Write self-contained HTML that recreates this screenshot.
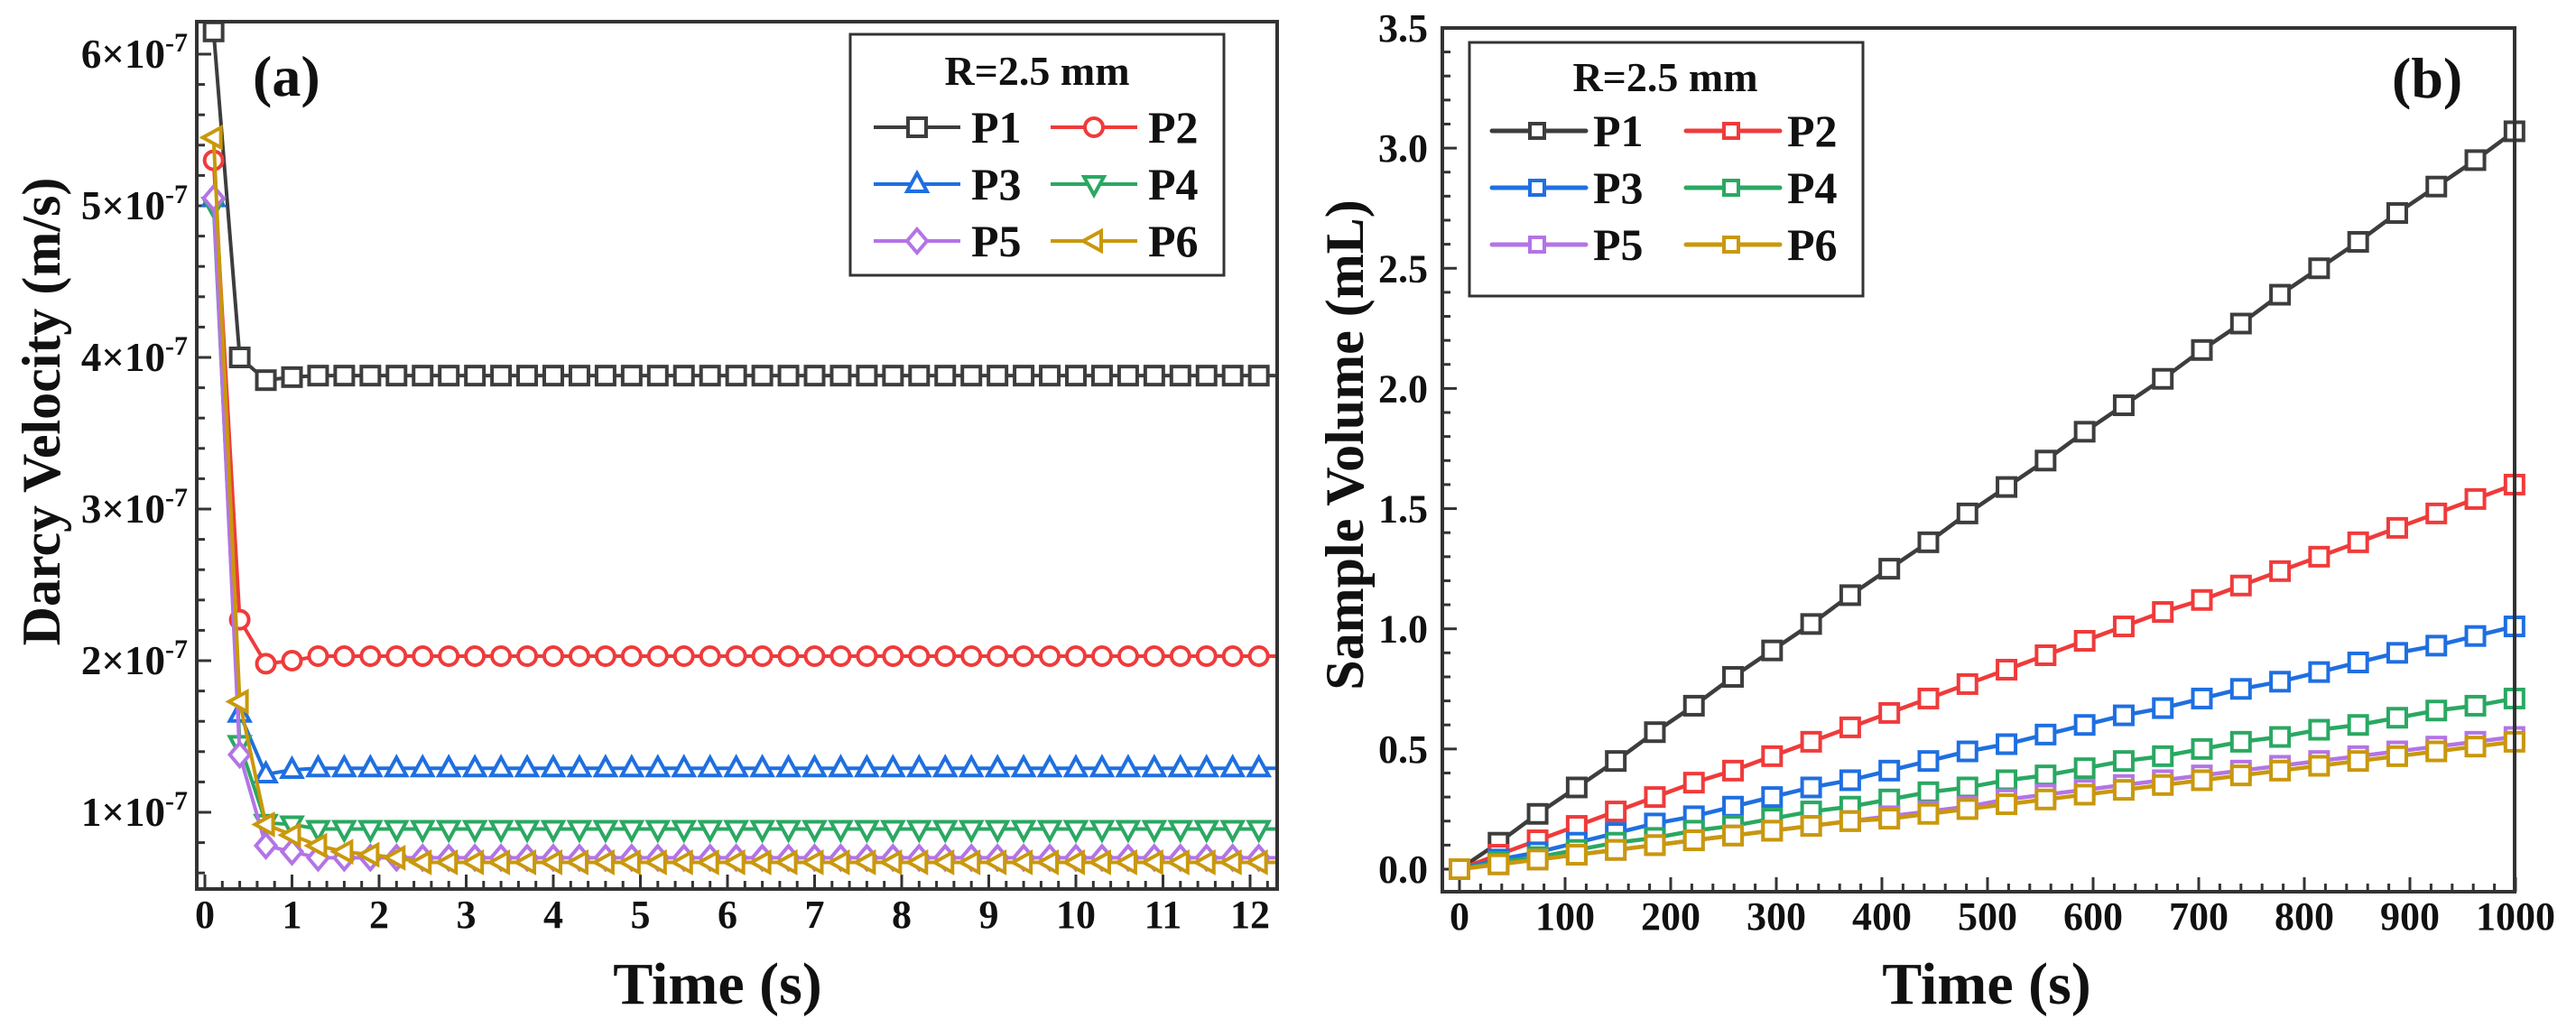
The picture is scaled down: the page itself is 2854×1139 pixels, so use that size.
<!DOCTYPE html>
<html><head><meta charset="utf-8"><style>
html,body{margin:0;padding:0;background:#fff;}
svg{display:block;font-family:"Liberation Serif",serif;font-weight:bold;}
</style></head><body>
<svg id="fig" width="2854" height="1139" viewBox="0 0 2854 1139" xmlns="http://www.w3.org/2000/svg"></svg>
<script>
// ---------- Panel (a) data ----------
const aTimes = [0.1,0.4,0.7,1.0,1.3,1.6,1.9,2.2,2.5,2.8,3.1,3.4,3.7,4.0,4.3,4.6,4.9,5.2,5.5,5.8,6.1,6.4,6.7,7.0,7.3,7.6,7.9,8.2,8.5,8.8,9.1,9.4,9.7,10.0,10.3,10.6,10.9,11.2,11.5,11.8,12.1];
const aP1Start = [6.15,4.0,3.85,3.87];
const aP2Start = [5.3,2.27,1.98,2.0];
const aP3Start = [5.05,1.65,1.25,1.28];
const aP4Start = [5.0,1.45,0.93,0.92];
const aP5Start = [5.05,1.38,0.78,0.74];
const aP6Start = [5.45,1.73,0.92,0.85,0.78,0.74,0.72,0.70];
const aP1Steady = 3.88, aP2Steady = 2.03, aP3Steady = 1.29, aP4Steady = 0.89, aP5Steady = 0.70, aP6Steady = 0.67;
const aYTicks = [1,2,3,4,5,6];
const aXTicks = [0,1,2,3,4,5,6,7,8,9,10,11,12];
// ---------- Panel (b) data ----------
const bTimes = [0,37,74,111,148,185,222,259,296,333,370,407,444,481,518,555,592,629,666,703,740,777,814,851,888,925,962,999];
const bP1 = [0,0.11,0.23,0.34,0.45,0.57,0.68,0.80,0.91,1.02,1.14,1.25,1.36,1.48,1.59,1.70,1.82,1.93,2.04,2.16,2.27,2.39,2.50,2.61,2.73,2.84,2.95,3.07];
const bP2 = [0,0.06,0.12,0.18,0.24,0.30,0.36,0.41,0.47,0.53,0.59,0.65,0.71,0.77,0.83,0.89,0.95,1.01,1.07,1.12,1.18,1.24,1.30,1.36,1.42,1.48,1.54,1.60];
const bP3 = [0,0.04,0.07,0.11,0.15,0.19,0.22,0.26,0.30,0.34,0.37,0.41,0.45,0.49,0.52,0.56,0.60,0.64,0.67,0.71,0.75,0.78,0.82,0.86,0.90,0.93,0.97,1.01];
const bP4 = [0,0.03,0.05,0.08,0.11,0.13,0.16,0.18,0.21,0.24,0.26,0.29,0.32,0.34,0.37,0.39,0.42,0.45,0.47,0.50,0.53,0.55,0.58,0.60,0.63,0.66,0.68,0.71];
const bP5 = [0,0.02,0.04,0.06,0.08,0.10,0.12,0.14,0.16,0.18,0.20,0.22,0.24,0.26,0.29,0.31,0.33,0.35,0.37,0.39,0.41,0.43,0.45,0.47,0.49,0.51,0.53,0.55];
const bP6 = [0,0.02,0.04,0.06,0.08,0.10,0.12,0.14,0.16,0.18,0.20,0.21,0.23,0.25,0.27,0.29,0.31,0.33,0.35,0.37,0.39,0.41,0.43,0.45,0.47,0.49,0.51,0.53];
const bYTicks = [0,0.5,1.0,1.5,2.0,2.5,3.0,3.5];
const bXTicks = [0,100,200,300,400,500,600,700,800,900,1000];
const seriesNames = ['P1','P2','P3','P4','P5','P6'];
const colors = ['#3d3d3d','#ef3b3b','#1f6fe0','#2aa862','#b374e6','#c9980c'];

const NS='http://www.w3.org/2000/svg';
const svg=document.getElementById('fig');
function mk(tag,attrs,parent){const e=document.createElementNS(NS,tag);for(const k in attrs)e.setAttribute(k,attrs[k]);(parent||svg).appendChild(e);return e;}

function fill(start,steady){return aTimes.map((t,i)=>i<start.length?start[i]:steady);}
const aSeries=[fill(aP1Start,aP1Steady),fill(aP2Start,aP2Steady),fill(aP3Start,aP3Steady),fill(aP4Start,aP4Steady),fill(aP5Start,aP5Steady),fill(aP6Start,aP6Steady)];
const bSeries=[bP1,bP2,bP3,bP4,bP5,bP6];

const ax={l:218,r:1415,t:24,b:985};
const axX=t=>227+t*96.5;
const axY=v=>900-(v-1)*168;
const bx={l:1598,r:2786,t:31,b:988};
const bxX=t=>1617+t*1.17;
const bxY=v=>963-v*266.3;

function marker(g,shape,x,y,color,s){
  let el;
  if(shape==='sq') el=mk('rect',{x:x-s,y:y-s,width:2*s,height:2*s},g);
  else if(shape==='ci') el=mk('circle',{cx:x,cy:y,r:s},g);
  else {
    let p;
    if(shape==='up') p=[[x,y-s*1.2],[x+s*1.1,y+s*0.8],[x-s*1.1,y+s*0.8]];
    else if(shape==='dn') p=[[x,y+s*1.2],[x+s*1.1,y-s*0.8],[x-s*1.1,y-s*0.8]];
    else if(shape==='di') p=[[x,y-s*1.3],[x+s*1.1,y],[x,y+s*1.3],[x-s*1.1,y]];
    else p=[[x-s*1.2,y],[x+s*0.8,y-s*1.1],[x+s*0.8,y+s*1.1]];
    el=mk('polygon',{points:p.map(q=>q.join(',')).join(' ')},g);
  }
  el.setAttribute('fill','#fff');el.setAttribute('stroke',color);el.setAttribute('stroke-width',4);
  return el;
}

function frame(b,name){
  const r=mk('rect',{x:b.l,y:b.t,width:b.r-b.l,height:b.b-b.t,fill:'none',stroke:'#333',"stroke-width":4});
  
  
}

// ---------- Panel (a) ----------
const ga=mk('g',{});


for(let v=0.6;v<=6.2;v+=0.2){const y=axY(v);if(y<ax.t||y>ax.b)continue;const maj=Math.abs(v-Math.round(v))<0.01;mk('line',{x1:ax.l,x2:ax.l+(maj?16:9),y1:y,y2:y,stroke:'#333','stroke-width':3},ga);}
for(let t=0;t<=12.3;t+=0.2){const x=axX(t);if(x>ax.r)continue;const maj=Math.abs(t-Math.round(t))<0.01;mk('line',{x1:x,x2:x,y1:ax.b,y2:ax.b-(maj?16:9),stroke:'#333','stroke-width':3},ga);}
aYTicks.forEach(v=>{const t=mk('text',{x:208,y:axY(v)+15,'text-anchor':'end','font-size':45,fill:'#111'},ga);
  
  
  t.textContent=v+'×10';const s=mk('tspan',{dy:-18,'font-size':30},t);s.textContent='-7';});
aXTicks.forEach(v=>{const t=mk('text',{x:axX(v),y:1028,'text-anchor':'middle','font-size':44,fill:'#111'},ga);
  
  
  t.textContent=v;});
const shapesA=['sq','ci','up','dn','di','lt'];
aSeries.forEach((vals,si)=>{
  const g=mk('g',{},ga);
  
  
  const pts=vals.map((v,i)=>[axX(aTimes[i]),axY(v)]);
  pts.push([ax.r,axY(vals[vals.length-1])]);
  mk('polyline',{points:pts.map(p=>p.join(',')).join(' '),fill:'none',stroke:colors[si],'stroke-width':4},g);
  vals.forEach((v,i)=>marker(g,shapesA[si],axX(aTimes[i]),axY(v),colors[si],10));
});
frame(ax,'plot-frame-a');
const la=mk('g',{});


mk('rect',{x:942,y:38,width:414,height:267,fill:'#fff',stroke:'#333','stroke-width':3},la);
mk('text',{x:1149,y:94,'text-anchor':'middle','font-size':46,fill:'#111'},la).textContent='R=2.5 mm';
seriesNames.forEach((n,i)=>{
  const col=i%2,row=Math.floor(i/2);const x0=col?1164:968,y=141+row*63;
  const g=mk('g',{},la);
  
  
  mk('line',{x1:x0,x2:x0+96,y1:y,y2:y,stroke:colors[i],'stroke-width':4},g);
  marker(g,shapesA[i],x0+48,y,colors[i],10);
  mk('text',{x:x0+108,y:y+17,'font-size':50,fill:'#111'},g).textContent=n;
});
const ta=mk('text',{x:280,y:106,'font-size':64,fill:'#111'});


ta.textContent='(a)';
const yta=mk('text',{x:0,y:0,'text-anchor':'middle','font-size':60,fill:'#111',transform:'translate(66,456) rotate(-90)'});


yta.textContent='Darcy Velocity  (m/s)';
const xta=mk('text',{x:795,y:1112,'text-anchor':'middle','font-size':66,fill:'#111'});


xta.textContent='Time  (s)';

// ---------- Panel (b) ----------
const gb=mk('g',{});


for(let v=0;v<=3.5001;v+=0.1){const y=bxY(v);const maj=Math.abs(v*2-Math.round(v*2))<0.01;mk('line',{x1:bx.l,x2:bx.l+(maj?16:9),y1:y,y2:y,stroke:'#333','stroke-width':3},gb);}
for(let t=0;t<=1000;t+=20){const x=bxX(t);const maj=t%100===0;mk('line',{x1:x,x2:x,y1:bx.b,y2:bx.b-(maj?16:9),stroke:'#333','stroke-width':3},gb);}
bYTicks.forEach(v=>{const t=mk('text',{x:1582,y:bxY(v)+15,'text-anchor':'end','font-size':44,fill:'#111'},gb);
  
  
  t.textContent=v.toFixed(1);});
bXTicks.forEach(v=>{const t=mk('text',{x:bxX(v),y:1030,'text-anchor':'middle','font-size':44,fill:'#111'},gb);
  
  
  t.textContent=v;});
bSeries.forEach((vals,si)=>{
  const g=mk('g',{},gb);
  
  
  const pts=vals.map((v,i)=>[bxX(bTimes[i]),bxY(v)]);
  mk('polyline',{points:pts.map(p=>p.join(',')).join(' '),fill:'none',stroke:colors[si],'stroke-width':4.5},g);
  vals.forEach((v,i)=>marker(g,'sq',bxX(bTimes[i]),bxY(v),colors[si],10));
});
frame(bx,'plot-frame-b');
const lb=mk('g',{});


mk('rect',{x:1628,y:47,width:436,height:281,fill:'#fff',stroke:'#333','stroke-width':3},lb);
mk('text',{x:1845,y:101,'text-anchor':'middle','font-size':46,fill:'#111'},lb).textContent='R=2.5 mm';
seriesNames.forEach((n,i)=>{
  const col=i%2,row=Math.floor(i/2);const x0=col?1868:1653,y=145+row*63;
  const g=mk('g',{},lb);
  
  
  mk('line',{x1:x0,x2:x0+104,y1:y,y2:y,stroke:colors[i],'stroke-width':5,'stroke-linecap':'round'},g);
  marker(g,'sq',x0+50,y,colors[i],8);
  mk('text',{x:x0+112,y:y+17,'font-size':50,fill:'#111'},g).textContent=n;
});
const tb=mk('text',{x:2650,y:108,'font-size':64,fill:'#111'});


tb.textContent='(b)';
const ytb=mk('text',{x:0,y:0,'text-anchor':'middle','font-size':60,fill:'#111',transform:'translate(1510,493) rotate(-90)'});


ytb.textContent='Sample Volume  (mL)';
const xtb=mk('text',{x:2201,y:1112,'text-anchor':'middle','font-size':66,fill:'#111'});


xtb.textContent='Time  (s)';
</script>
</body></html>
